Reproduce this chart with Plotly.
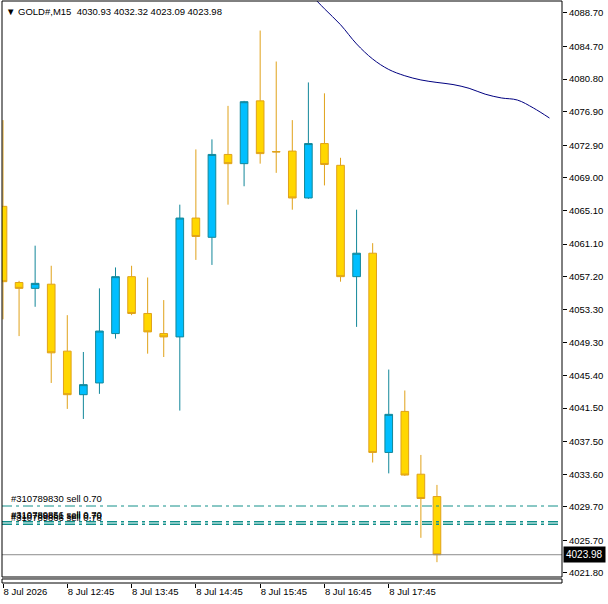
import pandas as pd
import plotly.graph_objects as go

# ---------------- data ----------------
times = pd.date_range("2026-07-08 11:45", periods=28, freq="15min")
opens  = [4065.6, 4056.5, 4055.8, 4056.3, 4048.3, 4043.1, 4044.5, 4050.4, 4057.2, 4052.8,
          4050.4, 4050.0, 4064.2, 4061.9, 4071.8, 4070.7, 4078.2, 4072.15, 4072.2, 4066.6,
          4073.1, 4070.5, 4057.2, 4060.0, 4036.2, 4041.1, 4033.6, 4030.93]
highs  = [4075.9, 4056.7, 4060.9, 4058.5, 4052.6, 4048.2, 4055.8, 4058.3, 4058.5, 4057.1,
          4054.4, 4065.8, 4072.4, 4073.6, 4077.6, 4078.2, 4086.6, 4082.9, 4075.9, 4080.4,
          4079.1, 4071.4, 4065.2, 4061.2, 4046.1, 4043.6, 4035.9, 4032.32]
lows   = [4052.1, 4050.1, 4053.6, 4044.5, 4041.4, 4040.2, 4043.2, 4049.8, 4052.6, 4048.0,
          4047.6, 4041.2, 4059.2, 4058.6, 4065.8, 4068.0, 4070.7, 4069.6, 4065.2, 4066.5,
          4068.1, 4056.6, 4051.2, 4035.0, 4033.7, 4033.4, 4026.0, 4023.09]
closes = [4056.6, 4055.8, 4056.4, 4048.1, 4043.1, 4044.3, 4050.7, 4057.2, 4052.8, 4050.6,
          4050.0, 4064.2, 4062.0, 4071.8, 4070.7, 4078.1, 4071.9, 4072.1, 4066.6, 4073.1,
          4070.6, 4057.2, 4060.0, 4036.2, 4040.75, 4033.5, 4030.7, 4023.98]

# shifted moving average (extends past the last bar)
ma_times = pd.date_range("2026-07-08 16:30", periods=16, freq="15min")
ma_values = [4091.2, 4089.2, 4087.3, 4085.0, 4083.2, 4081.95, 4081.2, 4080.7,
             4080.4, 4080.15, 4079.7, 4079.0, 4078.55, 4078.3, 4077.35, 4076.15]

# open orders
order_labels = ["#310789830 sell 0.70", "#310789856 sell 0.70",
                "#310789861 sell 0.70", "#310789866 sell 0.78"]
order_prices = [4029.80, 4027.95, 4027.77, 4027.59]

current_price = 4023.98
symbol = "GOLD#,M15"

y_tick_labels = ["4088.70", "4084.70", "4080.80", "4076.90", "4072.90", "4069.00",
                 "4065.10", "4061.10", "4057.20", "4053.30", "4049.30", "4045.40",
                 "4041.50", "4037.50", "4033.60", "4029.70", "4025.70", "4021.80"]
x_tick_times = ["2026-07-08 11:45", "2026-07-08 12:45", "2026-07-08 13:45",
                "2026-07-08 14:45", "2026-07-08 15:45", "2026-07-08 16:45",
                "2026-07-08 17:45"]
x_tick_labels = ["8 Jul 2026", "8 Jul 12:45", "8 Jul 13:45", "8 Jul 14:45",
                 "8 Jul 15:45", "8 Jul 16:45", "8 Jul 17:45"]

# ---------------- figure ----------------
FONT = "Liberation Sans, Arial, sans-serif"
FS = 9.5
ORDER_COLOR = "#12908A"

fig = go.Figure()
fig.add_trace(go.Candlestick(
    x=times, open=opens, high=highs, low=lows, close=closes,
    increasing=dict(line=dict(color="#12879A", width=1), fillcolor="#00BFFF"),
    decreasing=dict(line=dict(color="#E0A21A", width=1), fillcolor="#FFD700"),
    showlegend=False, hoverinfo="skip",
))
fig.add_trace(go.Scatter(
    x=ma_times, y=ma_values, mode="lines",
    line=dict(color="#000080", width=1, shape="spline"),
    showlegend=False, hoverinfo="skip",
))

shapes = []
# order lines
for p in order_prices:
    shapes.append(dict(type="line", xref="paper", yref="y", x0=0, x1=1, y0=p, y1=p,
                       line=dict(color=ORDER_COLOR, width=1, dash="10px,4px,3px,4px")))
# current price line
shapes.append(dict(type="line", xref="paper", yref="y", x0=0, x1=1,
                   y0=current_price, y1=current_price,
                   line=dict(color="#8C8C8C", width=1)))
# plot frame
shapes.append(dict(type="rect", xref="paper", yref="y domain", x0=0, x1=1, y0=0, y1=1,
                   line=dict(color="black", width=1), layer="above"))
# thin strip under the chart
shapes.append(dict(type="rect", xref="paper", yref="paper", x0=0, x1=1, y0=0, y1=0.0069,
                   line=dict(color="black", width=1)))

annotations = []
annotations.append(dict(
    xref="paper", yref="paper", x=0, y=1, xanchor="left", yanchor="top",
    xshift=2, yshift=-3, showarrow=False,
    text="▼ " + symbol + "  " + " ".join(f"{v:.2f}" for v in
                                          [opens[-1], highs[-1], lows[-1], closes[-1]]),
    font=dict(family=FONT, size=FS, color="black"),
))
for lab, p in zip(order_labels, order_prices):
    annotations.append(dict(
        xref="paper", yref="y", x=0, y=p, xanchor="left", yanchor="bottom",
        xshift=7, yshift=0, showarrow=False, text=lab,
        font=dict(family=FONT, size=FS, color="black"),
    ))
annotations.append(dict(
    xref="paper", yref="y", x=1, y=current_price, xanchor="left", yanchor="middle",
    xshift=1, showarrow=False, text=f"{current_price:.2f}",
    bgcolor="black", borderpad=2,
    font=dict(family=FONT, size=10, color="white"),
))

y_min, y_max = 4021.32, 4090.13
fig.update_layout(
    width=608, height=604,
    margin=dict(l=2, r=46, t=1, b=21),
    paper_bgcolor="white", plot_bgcolor="white",
    font=dict(family=FONT, size=FS, color="black"),
    shapes=shapes, annotations=annotations,
    boxgap=0.32,
    xaxis=dict(
        type="date",
        range=["2026-07-08 11:44:04", "2026-07-08 20:26:42"],
        rangeslider=dict(visible=False),
        tickvals=x_tick_times, ticktext=x_tick_labels,
        ticks="outside", ticklen=4, tickcolor="black", tickwidth=1,
        ticklabelposition="outside right",
        showgrid=False, zeroline=False, showline=False,
        anchor="free", position=0,
        tickfont=dict(family=FONT, size=FS, color="black"),
    ),
    yaxis=dict(
        side="right", range=[y_min, y_max],
        domain=[6 / 582, 1],
        tickvals=[float(t) for t in y_tick_labels], ticktext=y_tick_labels,
        ticks="outside", ticklen=4, tickcolor="black", tickwidth=1,
        showgrid=False, zeroline=False, showline=False,
        tickfont=dict(family=FONT, size=FS, color="black"),
    ),
)

fig.write_html("out.html")
